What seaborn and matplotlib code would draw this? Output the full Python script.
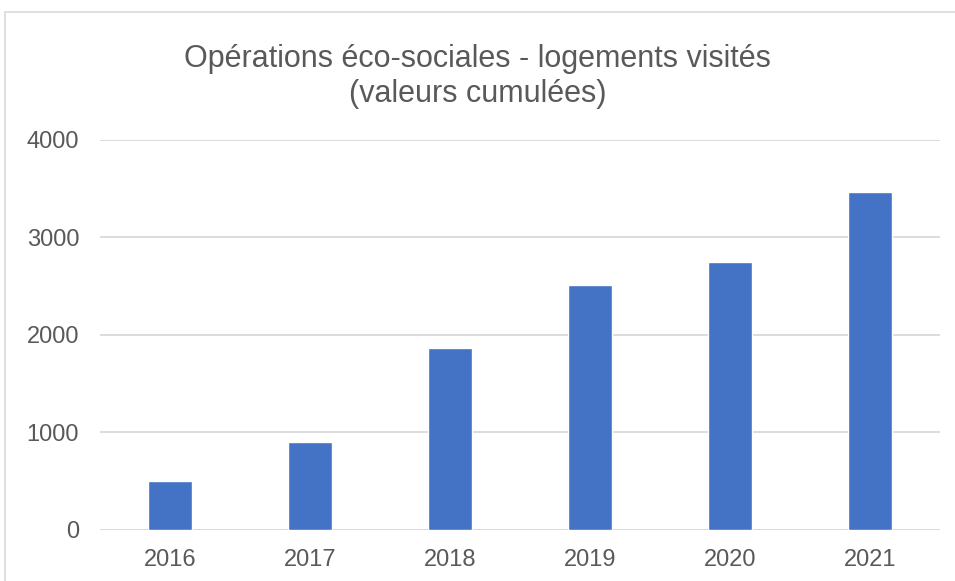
import matplotlib
matplotlib.use("Agg")
import matplotlib.pyplot as plt
import seaborn as sns
import pandas as pd
from matplotlib.patches import Rectangle

annees = ["2016", "2017", "2018", "2019", "2020", "2021"]
logements = [500, 900, 1865, 2510, 2750, 3465]
yticks = [0, 1000, 2000, 3000, 4000]
titre = "Opérations éco-sociales - logements visités\n(valeurs cumulées)"

sns.set_theme(style="white")
plt.rcParams['font.family'] = ['Liberation Sans', 'DejaVu Sans']

data = pd.DataFrame({"annee": annees, "logements": logements})

W, H = 955, 581
fig = plt.figure(figsize=(W / 100, H / 100), dpi=100)
ax = fig.add_axes([100 / W, 1 - 530 / H, 840 / W, (530 - 139.7) / H])

sns.barplot(data=data, x="annee", y="logements", color="#4472C4",
            width=0.32, saturation=1, ax=ax, zorder=3)

ax.set_ylim(0, 4000)
ax.set_xlim(-0.5, len(annees) - 0.5)
ax.set_yticks(yticks)
ax.yaxis.grid(True, color="#D9D9D9", linewidth=1.3, zorder=0)
ax.set_axisbelow(True)
for s in ["top", "right", "left", "bottom"]:
    ax.spines[s].set_visible(False)
ax.axhline(0, color="#D9D9D9", linewidth=1.3, zorder=2)
ax.set_xlabel("")
ax.set_ylabel("")
ax.tick_params(axis="both", length=0, labelsize=17, colors="#595959")
ax.tick_params(axis="y", pad=15)
ax.tick_params(axis="x", pad=14)

fig.text(0.5, 1 - 76.5 / H, titre, ha="center", va="center",
         fontsize=22, color="#595959", linespacing=1.25)

# cadre du graphique (coupé à droite et en bas)
fig.patches.append(Rectangle((4.5 / W, -0.1), 1.2, 1 - 12.5 / H + 0.1,
                             transform=fig.transFigure, fill=False,
                             edgecolor="#D9D9D9", linewidth=1.2, clip_on=False))

fig.savefig("out.png", dpi=100, facecolor="white")
